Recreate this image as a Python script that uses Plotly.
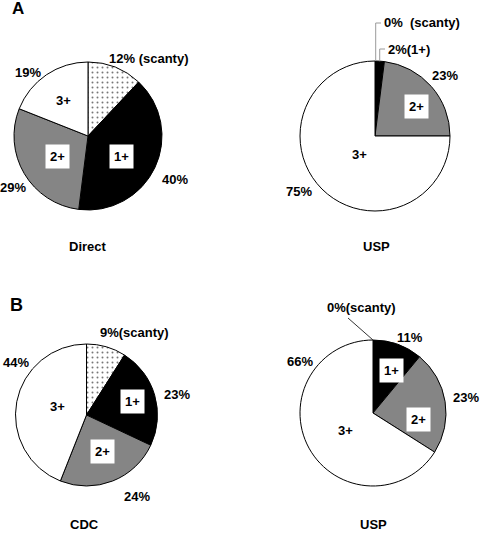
import math
import plotly.graph_objects as go

# ---------------- data ----------------
categories = ["scanty", "1+", "2+", "3+"]
direct_vals = [12, 40, 29, 19]
usp_a_vals = [0, 2, 23, 75]
cdc_vals = [9, 23, 24, 44]
usp_b_vals = [0, 11, 23, 66]
pie_titles = ["Direct", "USP", "CDC", "USP"]
panel_letters = ["A", "B"]

# ---------------- layout helpers ----------------
W, H = 484, 534
FONT = "Liberation Sans, Arial, sans-serif"
colors = ["white", "black", "#858585", "white"]


def px(x):
    return x / W


def py(y):
    return 1 - y / H


# pie geometry in pixels: (cx, cy, r)
geoms = [(88, 136, 74), (375, 136, 75), (86.5, 415, 71), (373, 413, 73)]
all_vals = [direct_vals, usp_a_vals, cdc_vals, usp_b_vals]

fig = go.Figure()
for vals, (cx, cy, r) in zip(all_vals, geoms):
    fig.add_trace(go.Pie(
        labels=categories,
        values=vals,
        sort=False,
        direction="clockwise",
        rotation=0,
        textinfo="none",
        hoverinfo="label+percent",
        showlegend=False,
        domain=dict(x=[px(cx - r), px(cx + r)], y=[py(cy + r), py(cy - r)]),
        marker=dict(
            colors=colors,
            line=dict(color="black", width=1),
            pattern=dict(
                shape=[".", "", "", ""],
                fgcolor="#777777",
                bgcolor="white",
                size=5,
                solidity=0.12,
            ),
        ),
    ))

annotations = []


def txt(text, x, y, size=13, box=False, xanchor="center"):
    d = dict(
        text=text, x=px(x), y=py(y), xref="paper", yref="paper",
        showarrow=False, xanchor=xanchor, yanchor="middle",
        font=dict(family=FONT, size=size, color="black", weight="bold"),
    )
    if box:
        d.update(bgcolor="white", borderpad=4)
    annotations.append(d)


def pct(v):
    return f"{v}%"


# ---- Direct ----
txt(pct(direct_vals[0]) + " (scanty)", 148, 58)
txt(pct(direct_vals[1]), 175, 180)
txt(pct(direct_vals[2]), 13, 188)
txt(pct(direct_vals[3]), 28, 72)
txt(categories[1], 121, 156, box=True)
txt(categories[2], 57, 156, box=True)
txt(categories[3], 63, 100)

# ---- USP (A) ----
txt(pct(usp_a_vals[0]) + "  (scanty)", 382, 23, xanchor="left")
txt(pct(usp_a_vals[1]) + "(" + categories[1] + ")", 386, 49, xanchor="left")
txt(pct(usp_a_vals[2]), 445, 75)
txt(pct(usp_a_vals[3]), 299, 191)
txt(categories[2], 416, 106, box=True)
txt(categories[3], 359, 154)

# ---- CDC ----
txt(pct(cdc_vals[0]) + "(scanty)", 134, 332)
txt(pct(cdc_vals[1]), 177, 394)
txt(pct(cdc_vals[2]), 137, 496)
txt(pct(cdc_vals[3]), 16, 362)
txt(categories[1], 132, 401, box=True)
txt(categories[2], 102, 451, box=True)
txt(categories[3], 57, 406)

# ---- USP (B) ----
txt(pct(usp_b_vals[0]) + "(scanty)", 361, 307)
txt(pct(usp_b_vals[1]), 410, 337)
txt(pct(usp_b_vals[2]), 466, 397)
txt(pct(usp_b_vals[3]), 300, 361)
txt(categories[1], 391, 370, box=True)
txt(categories[2], 418, 419, box=True)
txt(categories[3], 345, 430)

# titles
title_pos = [(88, 246), (376, 246), (84, 524), (373, 524)]
for t, (x, y) in zip(pie_titles, title_pos):
    txt(t, x, y)

# panel letters
txt(panel_letters[0], 18, 8, size=17)
txt(panel_letters[1], 16, 305, size=18)

# ---- leader lines ----
shapes = []
cx, cy, r = geoms[1]
# scanty (0%) at angle 0, 1+ at the middle of its slice
ang0 = 0.0
ang1 = (usp_a_vals[0] + usp_a_vals[1] / 2) / 100 * 2 * math.pi
x0 = cx + r * math.sin(ang0)
y0 = cy - r * math.cos(ang0)
x1 = cx + r * math.sin(ang1)
y1 = cy - r * math.cos(ang1)
for (xs, ys, yl, xe) in [(x0 + 0.7, y0, 23, 381), (x1, y1, 49, 385)]:
    shapes.append(dict(
        type="path", xref="paper", yref="paper",
        path=f"M {px(xs)} {py(ys)} L {px(xs)} {py(yl)} L {px(xe)} {py(yl)}",
        line=dict(color="#9a9a9a", width=1),
    ))

cx, cy, r = geoms[3]
shapes.append(dict(
    type="line", xref="paper", yref="paper",
    x0=px(cx), y0=py(cy - r), x1=px(348), y1=py(318),
    line=dict(color="#333333", width=1),
))

fig.update_layout(
    width=W, height=H,
    margin=dict(l=0, r=0, t=0, b=0),
    paper_bgcolor="white",
    plot_bgcolor="white",
    annotations=annotations,
    shapes=shapes,
    font=dict(family=FONT),
)

fig.write_html("out.html")
